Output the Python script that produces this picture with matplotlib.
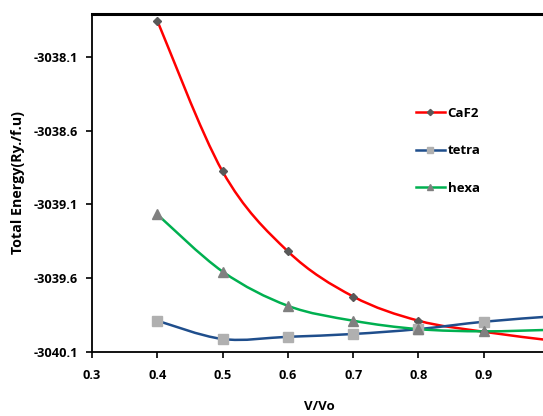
import matplotlib
matplotlib.use("Agg")
import matplotlib.pyplot as plt
import numpy as np
from matplotlib.path import Path
from matplotlib.patches import PathPatch
from matplotlib.lines import Line2D

v_ratio = [0.4, 0.5, 0.6, 0.7, 0.8, 0.9, 1.0]
caf2 = [-3037.855, -3038.877, -3039.418, -3039.724, -3039.888, -3039.963, -3040.02]
tetra = [-3039.888, -3040.012, -3039.997, -3039.978, -3039.945, -3039.895, -3039.86]
hexa = [-3039.168, -3039.555, -3039.787, -3039.888, -3039.945, -3039.960, -3039.95]

y_ticks = [-3040.1, -3039.6, -3039.1, -3038.6, -3038.1]
x_ticks = [0.3, 0.4, 0.5, 0.6, 0.7, 0.8, 0.9]


def smooth_path(x, y):
    # Excel-style smoothed line: Catmull-Rom segments as cubic Beziers
    p = np.column_stack([x, y])
    n = len(p)
    verts = [p[0]]
    codes = [Path.MOVETO]
    for i in range(n - 1):
        p0 = p[i - 1] if i > 0 else p[i]
        p3 = p[i + 2] if i + 2 < n else p[i + 1]
        c1 = p[i] + (p[i + 1] - p0) / 6.0
        c2 = p[i + 1] - (p3 - p[i]) / 6.0
        verts += [c1, c2, p[i + 1]]
        codes += [Path.CURVE4] * 3
    return Path(verts, codes)


plt.rcParams["font.family"] = ["Open Sans", "DejaVu Sans"]
plt.rcParams["font.weight"] = "bold"

fig = plt.figure(figsize=(5.43, 4.16), dpi=100)
ax = fig.add_axes([92 / 543, 64 / 416, 457 / 543, 338 / 416])

series = [
    ("CaF2", caf2, "#ff0000", "D", "#595959", 4.5),
    ("tetra", tetra, "#1f4e8c", "s", "#b0b0b0", 6.5),
    ("hexa", hexa, "#00b050", "^", "#808080", 6.5),
]
handles = []
for name, vals, color, marker, mcolor, ms in series:
    ax.add_patch(PathPatch(smooth_path(v_ratio, vals), fill=False,
                           edgecolor=color, lw=1.8, zorder=2))
    ax.plot(v_ratio, vals, ls="none", marker=marker, ms=ms,
            mfc=mcolor, mec=mcolor, zorder=3)
    handles.append(Line2D([], [], color=color, lw=1.8, marker=marker,
                          ms=ms * 0.7, mfc=mcolor, mec=mcolor, label=name))

ax.set_xlim(0.3, 1.0)
ax.set_ylim(-3040.1, -3037.81)
ax.set_xticks(x_ticks)
ax.set_xticklabels([f"{t:.1f}" for t in x_ticks])
ax.set_yticks(y_ticks)
ax.set_yticklabels([f"{t:.1f}" for t in y_ticks])
ax.tick_params(direction="out", length=4, width=1.2, labelsize=9.2, pad=6)
ax.tick_params(axis="x", pad=8)
for lab in ax.get_xticklabels() + ax.get_yticklabels():
    lab.set_fontweight("bold")

for side in ["left", "bottom"]:
    ax.spines[side].set_linewidth(1.3)
ax.spines["top"].set_linewidth(2.2)
ax.spines["right"].set_visible(False)

fig.text(18 / 543, 1 - 182 / 416, "Total Energy(Ry./f.u)", rotation=90,
         ha="center", va="center", fontsize=10.3, fontweight="bold")
fig.text(319 / 543, 1 - 406 / 416, "V/Vo", ha="center", va="center",
         fontsize=9.5, fontweight="bold")

fig.legend(handles=handles, loc="upper left",
           bbox_to_anchor=(404 / 543, 1 - 95 / 416), frameon=False,
           handlelength=2.2, handletextpad=0.2,
           labelspacing=1.85, prop={"weight": "bold", "size": 9.5})

fig.savefig("out.png", dpi=100)
